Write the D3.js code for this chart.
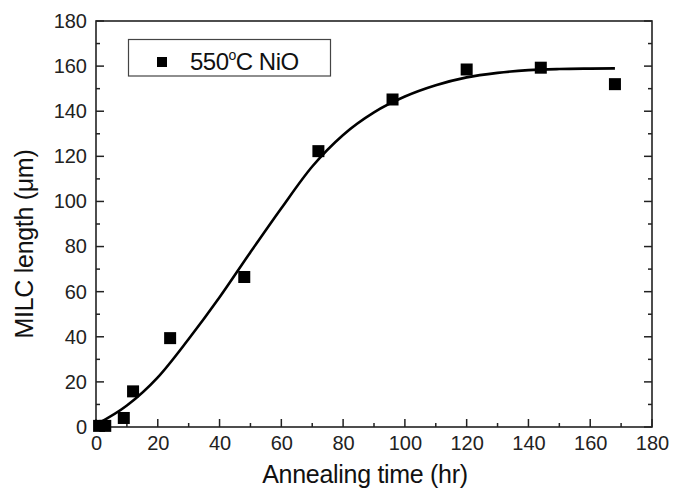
<!DOCTYPE html>
<html><head><meta charset="utf-8">
<script src="https://cdn.jsdelivr.net/npm/d3@7"></script>
<style>
html,body{margin:0;padding:0;background:#fff;}
svg{display:block;font-family:"Liberation Sans",Arial,sans-serif;}
</style></head>
<body>
<svg id="chart" width="674" height="497"></svg>
<script>
// Measured data (hours, µm)
const timeHr = [1, 3, 9, 12, 24, 48, 72, 96, 120, 144, 168];
const milcLength = [0.5, 0.5, 4, 15.8, 39.4, 66.5, 122.3, 145.2, 158.5, 159.3, 152];
// Fitted curve
const fitX = [0, 10, 20, 30, 40, 50, 60, 70, 80, 90, 100, 110, 120, 130, 140, 150, 160, 168];
const fitY = [1, 9.5, 22, 39, 57.5, 77.5, 97, 115.5, 129.5, 139.5, 146.5, 151.5, 155, 157, 158.2, 158.7, 158.9, 159];
const xTicks = [0, 20, 40, 60, 80, 100, 120, 140, 160, 180];
const yTicks = [0, 20, 40, 60, 80, 100, 120, 140, 160, 180];
const legendLabel = "550";

const svg = d3.select("#chart");
const L = 96, R = 652, T = 21, B = 427;
const x = d3.scaleLinear().domain([0, 180]).range([L, R]);
const y = d3.scaleLinear().domain([0, 180]).range([B, T]);
const axisColor = "#222";

// minor ticks
const xMinor = d3.range(10, 180, 20);
const yMinor = d3.range(10, 180, 20);

// bottom axis
const gx = svg.append("g").attr("transform", `translate(0,${B})`)
  .call(d3.axisBottom(x).tickValues(xTicks).tickSize(0).tickPadding(8).tickFormat(d3.format("d")));
gx.select(".domain").remove();
gx.selectAll("text").attr("font-size", 20).attr("fill", "#222").attr("dy", "0.75em");
gx.selectAll(".tick line").remove();
svg.append("g").selectAll("line.xt").data(xTicks).join("line")
  .attr("x1", d => x(d)).attr("x2", d => x(d)).attr("y1", B).attr("y2", B - 8)
  .attr("stroke", axisColor).attr("stroke-width", 1.5);
svg.append("g").selectAll("line.xm").data(xMinor).join("line")
  .attr("x1", d => x(d)).attr("x2", d => x(d)).attr("y1", B).attr("y2", B - 4)
  .attr("stroke", axisColor).attr("stroke-width", 1.5);

// left axis
const gy = svg.append("g").attr("transform", `translate(${L},0)`)
  .call(d3.axisLeft(y).tickValues(yTicks).tickSize(0).tickPadding(9).tickFormat(d3.format("d")));
gy.select(".domain").remove();
gy.selectAll("text").attr("font-size", 20).attr("fill", "#222");
gy.selectAll(".tick line").remove();
[L, R].forEach((xx, i) => {
  const dir = i === 0 ? 1 : -1;
  svg.append("g").selectAll("line").data(yTicks).join("line")
    .attr("x1", xx).attr("x2", xx + dir * 8).attr("y1", d => y(d)).attr("y2", d => y(d))
    .attr("stroke", axisColor).attr("stroke-width", 1.5);
  svg.append("g").selectAll("line").data(yMinor).join("line")
    .attr("x1", xx).attr("x2", xx + dir * 4).attr("y1", d => y(d)).attr("y2", d => y(d))
    .attr("stroke", axisColor).attr("stroke-width", 1.5);
});

// frame
svg.append("rect").attr("x", L).attr("y", T).attr("width", R - L).attr("height", B - T)
  .attr("fill", "none").attr("stroke", axisColor).attr("stroke-width", 1.6);

// fit curve
const fit = fitX.map((d, i) => [d, fitY[i]]);
svg.append("path").datum(fit)
  .attr("d", d3.line().x(d => x(d[0])).y(d => y(d[1])).curve(d3.curveMonotoneX))
  .attr("fill", "none").attr("stroke", "#000").attr("stroke-width", 2.6);

// points
const s = 12;
svg.append("g").selectAll("rect").data(timeHr).join("rect")
  .attr("x", (d) => x(d) - s / 2).attr("y", (d, i) => y(milcLength[i]) - s / 2)
  .attr("width", s).attr("height", s).attr("fill", "#000");

// legend
svg.append("rect").attr("x", 128.5).attr("y", 39.5).attr("width", 202).attr("height", 36.5)
  .attr("fill", "#fff").attr("stroke", "#444").attr("stroke-width", 1.2);
svg.append("rect").attr("x", 157).attr("y", 57).attr("width", 10).attr("height", 10).attr("fill", "#000");
const lt = svg.append("text").attr("x", 190).attr("y", 70).attr("font-size", 24).attr("fill", "#111")
  .attr("letter-spacing", "-0.5");
lt.append("tspan").text(legendLabel);
lt.append("tspan").attr("font-size", 14).attr("dy", -10).text("o");
lt.append("tspan").attr("dy", 10).text("C NiO");

// axis titles
svg.append("text").attr("x", 365).attr("y", 483).attr("text-anchor", "middle")
  .attr("font-size", 25).attr("fill", "#111").attr("letter-spacing", "-0.3").text("Annealing time (hr)");
svg.append("text").attr("transform", "translate(33,244) rotate(-90)").attr("text-anchor", "middle")
  .attr("font-size", 25).attr("fill", "#111").attr("letter-spacing", "-0.3").text("MILC length (\u03bcm)");
</script>
</body></html>
